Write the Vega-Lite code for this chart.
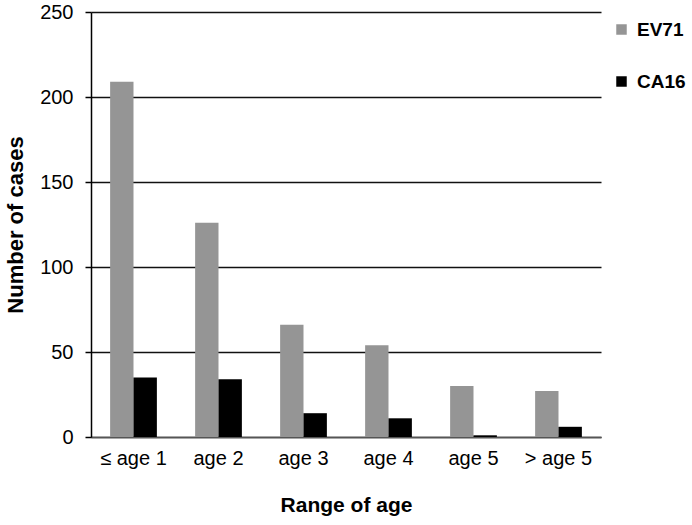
{
  "$schema": "https://vega.github.io/schema/vega-lite/v6.json",
  "width": 510,
  "height": 425,
  "autosize": {"type": "none"},
  "padding": {"left": 91, "top": 12, "right": 91, "bottom": 88},
  "background": "white",
  "config": {
    "font": "Liberation Sans",
    "view": {"stroke": null}
  },
  "data": {
    "values": [
      {"age": "≤ age 1", "virus": "EV71", "cases": 209},
      {"age": "≤ age 1", "virus": "CA16", "cases": 35},
      {"age": "age 2", "virus": "EV71", "cases": 126},
      {"age": "age 2", "virus": "CA16", "cases": 34},
      {"age": "age 3", "virus": "EV71", "cases": 66},
      {"age": "age 3", "virus": "CA16", "cases": 14},
      {"age": "age 4", "virus": "EV71", "cases": 54},
      {"age": "age 4", "virus": "CA16", "cases": 11},
      {"age": "age 5", "virus": "EV71", "cases": 30},
      {"age": "age 5", "virus": "CA16", "cases": 1},
      {"age": "> age 5", "virus": "EV71", "cases": 27},
      {"age": "> age 5", "virus": "CA16", "cases": 6}
    ]
  },
  "mark": {"type": "bar"},
  "encoding": {
    "x": {
      "field": "age",
      "type": "nominal",
      "sort": ["≤ age 1", "age 2", "age 3", "age 4", "age 5", "> age 5"],
      "scale": {"paddingInner": 0.45, "paddingOuter": 0.225},
      "axis": {
        "title": "Range of age",
        "titleFontSize": 21,
        "titleFontWeight": "bold",
        "titleColor": "#000",
        "titlePadding": 26,
        "labelAngle": 0,
        "labelFontSize": 20,
        "labelColor": "#000",
        "labelPadding": 11,
        "ticks": false,
        "domainColor": "#555",
        "domainWidth": 1.5
      }
    },
    "xOffset": {"field": "virus", "type": "nominal", "sort": ["EV71", "CA16"]},
    "y": {
      "field": "cases",
      "type": "quantitative",
      "scale": {"domain": [0, 250], "nice": false},
      "axis": {
        "title": "Number of cases",
        "titleFontSize": 22,
        "titleFontWeight": "bold",
        "titleColor": "#000",
        "titlePadding": 12,
        "values": [0, 50, 100, 150, 200, 250],
        "labelFontSize": 20,
        "labelColor": "#000",
        "labelPadding": 12,
        "tickSize": 6,
        "tickColor": "#000",
        "tickWidth": 1.5,
        "domainColor": "#000",
        "domainWidth": 1.5,
        "grid": true,
        "gridColor": "#111",
        "gridWidth": 1.5
      }
    },
    "color": {
      "field": "virus",
      "type": "nominal",
      "sort": ["EV71", "CA16"],
      "scale": {"domain": ["EV71", "CA16"], "range": ["#959595", "#000000"]},
      "legend": {
        "title": null,
        "orient": "none",
        "legendX": 521,
        "legendY": 8,
        "symbolType": "square",
        "symbolSize": 110,
        "symbolStrokeWidth": 0,
        "labelFontSize": 19,
        "labelFontWeight": "bold",
        "labelColor": "#000",
        "rowPadding": 32,
        "labelOffset": 6
      }
    }
  }
}
